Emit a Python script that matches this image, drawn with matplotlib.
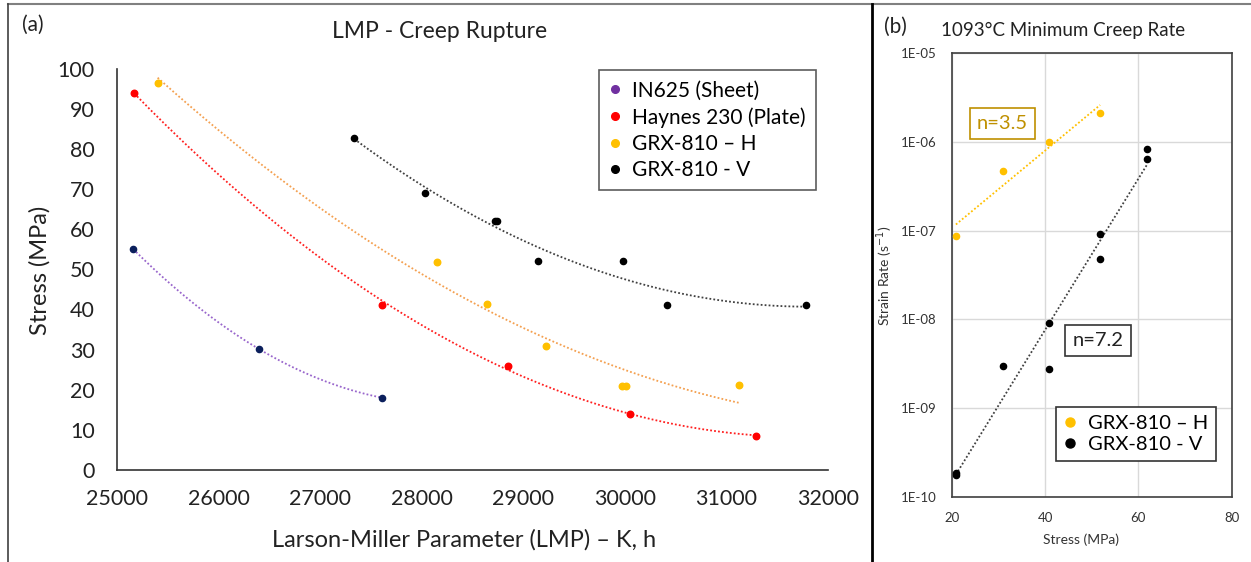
import numpy as np
import matplotlib
matplotlib.use("Agg")
import matplotlib.pyplot as plt
from matplotlib.lines import Line2D

plt.rcParams['font.family'] = ['Lato', 'DejaVu Sans']

# panel (a): LMP - creep rupture
in625_lmp = [25160, 26400, 27610]
in625_stress = [55.0, 30.1, 18.0]

haynes_lmp = [25170, 27610, 28845, 30055, 31290]
haynes_stress = [94.0, 41.1, 26.0, 14.0, 8.4]

grxh_lmp = [25400, 28155, 28640, 29225, 29975, 30015, 31120]
grxh_stress = [96.5, 51.9, 41.4, 31.0, 20.8, 20.8, 21.2]

grxv_lmp = [27335, 28030, 28720, 28745, 29145, 29985, 30410, 31780]
grxv_stress = [82.8, 68.9, 62.1, 62.1, 52.1, 52.1, 41.1, 41.1]

# panel (b): 1093C minimum creep rate
h_stress = [20.9, 30.9, 40.8, 51.8]
h_rate = [8.6e-8, 4.7e-7, 1.0e-6, 2.1e-6]

v_stress = [20.9, 20.9, 30.9, 40.9, 40.9, 51.8, 51.8, 61.8, 61.8]
v_rate = [1.85e-10, 1.75e-10, 3.0e-9, 9.2e-9, 2.75e-9, 9.2e-8, 4.75e-8, 8.4e-7, 6.5e-7]

rate_ticks = [1e-10, 1e-9, 1e-8, 1e-7, 1e-6, 1e-5]
rate_labels = ["1E-10", "1E-09", "1E-08", "1E-07", "1E-06", "1E-05"]

W, H = 1251, 562
fig = plt.figure(figsize=(W / 100, H / 100), dpi=100)


def px(l, t, r, b):
    return [l / W, 1 - b / H, (r - l) / W, (b - t) / H]


# frame lines
fig.add_artist(Line2D([8 / W, 1], [1 - 4 / H, 1 - 4 / H], color="#808080", lw=1.5))
fig.add_artist(Line2D([8 / W, 8 / W], [0, 1 - 4 / H], color="#404040", lw=1.2))
fig.add_artist(Line2D([872 / W, 872 / W], [0, 1 - 4 / H], color="black", lw=2))

# ---------- panel (a) ----------
ax = fig.add_axes(px(117, 68.5, 828, 470))


def trend(x, y, color):
    c = np.polyfit(x, y, 2)
    xs = np.linspace(min(x), max(x), 200)
    ax.plot(xs, np.polyval(c, xs), ls=(0, (1, 1.2)), color=color, lw=1.3)


trend(in625_lmp, in625_stress, "#9966CC")
trend(haynes_lmp, haynes_stress, "#FF2020")
trend(grxh_lmp, grxh_stress, "#F4A050")
trend(grxv_lmp, grxv_stress, "#404040")

ax.scatter(in625_lmp, in625_stress, s=20, color="#0B1F5C", zorder=3)
ax.scatter(haynes_lmp, haynes_stress, s=22, color="#FF0000", zorder=3)
ax.scatter(grxh_lmp, grxh_stress, s=22, color="#FFC000", zorder=3)
ax.scatter(grxv_lmp, grxv_stress, s=20, color="black", zorder=3)

ax.set_xlim(25000, 32000)
ax.set_ylim(0, 100)
ax.set_xticks(range(25000, 32001, 1000))
ax.set_yticks(range(0, 101, 10))
ax.tick_params(length=0, labelsize=15.5, colors="#222222")
ax.tick_params(axis="y", pad=16)
ax.tick_params(axis="x", pad=14)
for s in ["top", "right"]:
    ax.spines[s].set_visible(False)
for s in ["left", "bottom"]:
    ax.spines[s].set_color("#333333")
    ax.spines[s].set_linewidth(1.2)

fig.text(40 / W, 1 - 270 / H, "Stress (MPa)", rotation=90, fontsize=17,
         ha="center", va="center", color="#222222")
fig.text(464 / W, 1 - 540 / H, "Larson-Miller Parameter (LMP) – K, h", fontsize=17,
         ha="center", va="center", color="#222222")
fig.text(440 / W, 1 - 32 / H, "LMP - Creep Rupture", fontsize=16.5,
         ha="center", va="center", color="#222222")
fig.text(22 / W, 1 - 25 / H, "(a)", fontsize=15, ha="left", va="center", color="#222222")

handles_a = [
    Line2D([], [], ls="", marker="o", ms=5.5, color="#7030A0"),
    Line2D([], [], ls="", marker="o", ms=5.5, color="#FF0000"),
    Line2D([], [], ls="", marker="o", ms=5.5, color="#FFC000"),
    Line2D([], [], ls="", marker="o", ms=5.5, color="black"),
]
labels_a = ["IN625 (Sheet)", "Haynes 230 (Plate)", "GRX-810 – H", "GRX-810 - V"]
leg = ax.legend(handles_a, labels_a, loc="upper left",
                bbox_to_anchor=(598.7 / W, 1 - 70.3 / H), bbox_transform=fig.transFigure,
                borderaxespad=0, fontsize=15, frameon=True, fancybox=False,
                handlelength=0.6, handletextpad=0.5, labelspacing=0.3,
                borderpad=0.5)
leg.get_frame().set_edgecolor("#333333")
leg.get_frame().set_linewidth(1.2)

# ---------- panel (b) ----------
bx = fig.add_axes(px(951.7, 53.3, 1231.7, 496.7))
bx.set_yscale("log")


def exp_trend(x, y, color):
    c = np.polyfit(x, np.log10(y), 1)
    xs = np.linspace(min(x), max(x), 50)
    bx.plot(xs, 10 ** np.polyval(c, xs), ls=(0, (1, 1.2)), color=color, lw=1.3)


exp_trend(h_stress, h_rate, "#FFC000")
exp_trend(v_stress, v_rate, "#404040")

bx.scatter(h_stress, h_rate, s=20, color="#FFC000", zorder=3)
bx.scatter(v_stress, v_rate, s=20, color="black", zorder=3)

bx.set_xlim(20, 80)
bx.set_ylim(1e-10, 1e-5)
bx.set_xticks([20, 40, 60, 80])
bx.set_yticks(rate_ticks)
bx.set_yticklabels(rate_labels)
bx.minorticks_off()
bx.tick_params(length=0, labelsize=9.5, colors="#333333")
bx.tick_params(axis="y", pad=11)
bx.tick_params(axis="x", pad=11)
bx.grid(True, color="#D9D9D9", lw=1)
bx.set_axisbelow(True)
for s in bx.spines.values():
    s.set_color("#404040")
    s.set_linewidth(1.2)

fig.text(885 / W, 1 - 276 / H, "Strain Rate (s$^{-1}$)", rotation=90, fontsize=10,
         ha="center", va="center", color="#333333")
fig.text(1081 / W, 1 - 540 / H, "Stress (MPa)", fontsize=10,
         ha="center", va="center", color="#333333")
fig.text(1063 / W, 1 - 30 / H, "1093°C Minimum Creep Rate", fontsize=13.5,
         ha="center", va="center", color="#222222")
fig.text(884 / W, 1 - 27 / H, "(b)", fontsize=15, ha="left", va="center", color="#222222")

fig.text(1002.5 / W, 1 - 123.7 / H, "n=3.5", fontsize=14.5, ha="center", va="center",
         color="#BF9000",
         bbox=dict(boxstyle="square,pad=0.35", fc="white", ec="#BF9000", lw=1.2))
fig.text(1098 / W, 1 - 340.7 / H, "n=7.2", fontsize=14.5, ha="center", va="center",
         color="#222222",
         bbox=dict(boxstyle="square,pad=0.35", fc="white", ec="#333333", lw=1.2))

handles_b = [
    Line2D([], [], ls="", marker="o", ms=6.5, color="#FFC000"),
    Line2D([], [], ls="", marker="o", ms=6.5, color="black"),
]
leg2 = bx.legend(handles_b, ["GRX-810 – H", "GRX-810 - V"], loc="upper left",
                 bbox_to_anchor=(1055.7 / W, 1 - 406.7 / H), bbox_transform=fig.transFigure,
                 borderaxespad=0, fontsize=14.5, frameon=True, fancybox=False,
                 handlelength=0.6, handletextpad=0.6, labelspacing=0.2,
                 borderpad=0.4, framealpha=1)
leg2.get_frame().set_edgecolor("#333333")
leg2.get_frame().set_linewidth(1.2)

fig.savefig("out.png", dpi=100)
